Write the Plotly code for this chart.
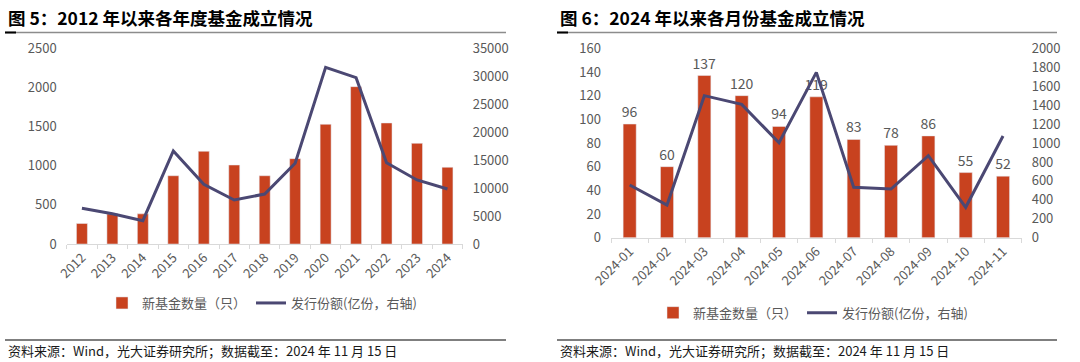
import plotly.graph_objects as go

# ---- data ----
years = ["2012", "2013", "2014", "2015", "2016", "2017", "2018",
         "2019", "2020", "2021", "2022", "2023", "2024"]
year_fund_count = [262, 385, 385, 872, 1184, 1009, 872, 1090, 1529, 2010, 1546, 1286, 980]
year_issue_share = [6400, 5400, 4170, 16630, 10670, 7870, 8940, 14430, 31600, 29750, 14540, 11450, 9840]

months = ["2024-01", "2024-02", "2024-03", "2024-04", "2024-05", "2024-06",
          "2024-07", "2024-08", "2024-09", "2024-10", "2024-11"]
month_fund_count = [96, 60, 137, 120, 94, 119, 83, 78, 86, 55, 52]
month_issue_share = [556, 345, 1500, 1408, 1003, 1746, 532, 514, 866, 321, 1074]

bar_name = "新基金数量（只）"
line_name = "发行份额(亿份，右轴)"
title_left = "图 5：2012 年以来各年度基金成立情况"
title_right = "图 6：2024 年以来各月份基金成立情况"
source_text = "资料来源：Wind，光大证券研究所；数据截至：2024 年 11 月 15 日"

# ---- style ----
W, H = 1080, 362
BAR = "#C8421F"
LINE = "#4B4873"
GRAY = "#595959"
FONT = "Noto Sans CJK SC"

def px_x(v):
    return v / W

def px_y(v):
    return 1 - v / H

fig = go.Figure()

# left chart
fig.add_trace(go.Bar(x=years, y=year_fund_count, name=bar_name, marker_color=BAR,
                     width=0.36, xaxis="x", yaxis="y", legend="legend"))
fig.add_trace(go.Scatter(x=years, y=year_issue_share, name=line_name, mode="lines",
                         line=dict(color=LINE, width=3), xaxis="x", yaxis="y2",
                         legend="legend"))
# right chart
fig.add_trace(go.Bar(x=months, y=month_fund_count, name=bar_name, marker_color=BAR,
                     width=0.35, text=month_fund_count, textposition="outside",
                     constraintext="none",
                     textfont=dict(family=FONT, size=14, color=GRAY), cliponaxis=False,
                     xaxis="x2", yaxis="y3", legend="legend2"))
fig.add_trace(go.Scatter(x=months, y=month_issue_share, name=line_name, mode="lines",
                         line=dict(color=LINE, width=3), xaxis="x2", yaxis="y4",
                         legend="legend2"))

tickfont = dict(family=FONT, size=13, color=GRAY)

xcommon = dict(type="category", showgrid=False, showline=True, linecolor="#D9D9D9",
               linewidth=1, ticks="outside", tickson="boundaries", ticklen=4,
               tickcolor="#D9D9D9", tickangle=-45, tickfont=tickfont, zeroline=False,
               automargin=False)
ycommon = dict(showgrid=False, showline=False, zeroline=False, tickfont=tickfont,
               ticks="", ticklabelstandoff=9, tickformat="d", automargin=False)

L_dom_x = [px_x(66.7), px_x(462.7)]
L_dom_y = [px_y(244), px_y(48.3)]
R_dom_x = [px_x(611), px_x(1021.7)]
R_dom_y = [px_y(237.7), px_y(48.3)]

fig.update_layout(
    width=W, height=H,
    margin=dict(l=0, r=0, t=0, b=0, autoexpand=False),
    paper_bgcolor="white", plot_bgcolor="white",
    font=dict(family=FONT, color=GRAY),
    xaxis=dict(domain=L_dom_x, anchor="y", range=[-0.5, 12.5], **xcommon),
    yaxis=dict(domain=L_dom_y, anchor="x", range=[0, 2500], dtick=500, **ycommon),
    yaxis2=dict(overlaying="y", side="right", anchor="x", range=[0, 35000], dtick=5000,
                **ycommon),
    xaxis2=dict(domain=R_dom_x, anchor="y3", range=[-0.5, 10.5], **xcommon),
    yaxis3=dict(domain=R_dom_y, anchor="x2", range=[0, 160], dtick=20, **ycommon),
    yaxis4=dict(overlaying="y3", side="right", anchor="x2", range=[0, 2000], dtick=200,
                **ycommon),
    legend=dict(orientation="h", x=px_x(262), xanchor="center", y=px_y(303),
                yanchor="middle", font=dict(family=FONT, size=13, color=GRAY),
                bgcolor="rgba(0,0,0,0)", itemwidth=30, tracegroupgap=0),
    legend2=dict(orientation="h", x=px_x(813), xanchor="center", y=px_y(312.7),
                 yanchor="middle", font=dict(family=FONT, size=13, color=GRAY),
                 bgcolor="rgba(0,0,0,0)", itemwidth=30, tracegroupgap=0),
    showlegend=True,
)

shapes = []
annotations = []
for x0, x1, title in [(5, 506, title_left), (557, 1057, title_right)]:
    # title underline
    shapes.append(dict(type="line", xref="paper", yref="paper",
                       x0=px_x(x0), x1=px_x(x1), y0=px_y(32.5), y1=px_y(32.5),
                       line=dict(color="#8C8C8C", width=1.5)))
    shapes.append(dict(type="line", xref="paper", yref="paper",
                       x0=px_x(x0), x1=px_x(x0 + 11), y0=px_y(32.5), y1=px_y(32.5),
                       line=dict(color="#000000", width=2)))
    # source line
    shapes.append(dict(type="line", xref="paper", yref="paper",
                       x0=px_x(x0), x1=px_x(x1), y0=px_y(340), y1=px_y(340),
                       line=dict(color="#000000", width=1.2)))
    annotations.append(dict(text="<b>" + title + "</b>", xref="paper", yref="paper",
                            x=px_x(x0 + 1), y=px_y(17), xanchor="left", yanchor="middle",
                            showarrow=False, font=dict(family=FONT, size=17.5, color="#000000")))
    annotations.append(dict(text=source_text, xref="paper", yref="paper",
                            x=px_x(x0 + 1), y=px_y(350), xanchor="left", yanchor="middle",
                            showarrow=False, font=dict(family=FONT, size=13, color="#1A1A1A")))

fig.update_layout(shapes=shapes, annotations=annotations)

fig.write_html("out.html", config={"displayModeBar": False},
               post_script="document.body.style.margin='0px';document.body.style.overflow='hidden';")
